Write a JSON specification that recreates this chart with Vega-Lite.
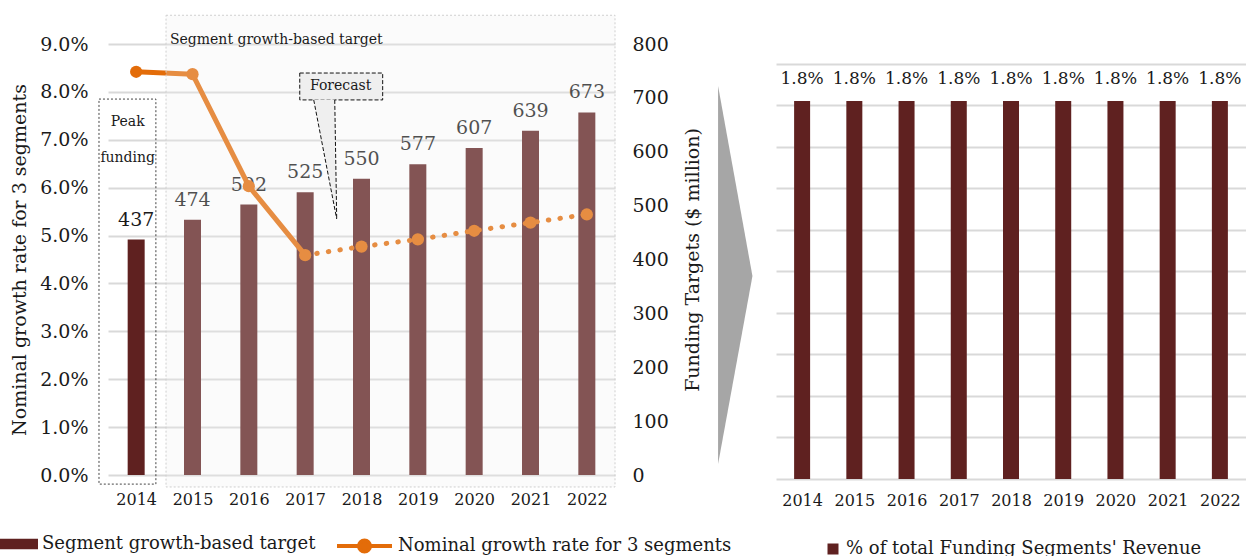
{
  "$schema": "https://vega.github.io/schema/vega-lite/v6.json",
  "padding": {"left": 0, "top": 14, "right": 0, "bottom": 0},
  "background": "white",
  "bounds": "flush",
  "spacing": 161,
  "config": {
    "font": "DejaVu Serif",
    "view": {"stroke": null},
    "axis": {
      "labelFont": "DejaVu Serif",
      "titleFont": "DejaVu Serif",
      "labelColor": "#1a1a1a",
      "titleColor": "#1a1a1a",
      "titleFontWeight": "normal",
      "gridColor": "#d9d9d9",
      "gridWidth": 2,
      "domain": false,
      "ticks": false
    },
    "legend": {"labelFont": "DejaVu Serif", "labelFontSize": 18, "labelColor": "#1a1a1a", "labelOffset": 4, "labelLimit": 0}
  },
  "datasets": {
    "main": [
      {"year": 2014, "funding": 437, "growth": 0.0842},
      {"year": 2015, "funding": 474, "growth": 0.0837},
      {"year": 2016, "funding": 502, "growth": 0.0603},
      {"year": 2017, "funding": 525, "growth": 0.0459},
      {"year": 2018, "funding": 550, "growth": 0.0477},
      {"year": 2019, "funding": 577, "growth": 0.0492},
      {"year": 2020, "funding": 607, "growth": 0.0510},
      {"year": 2021, "funding": 639, "growth": 0.0527},
      {"year": 2022, "funding": 673, "growth": 0.0544}
    ],
    "right": [
      {"year": 2014, "share": 0.0182},
      {"year": 2015, "share": 0.0182},
      {"year": 2016, "share": 0.0182},
      {"year": 2017, "share": 0.0182},
      {"year": 2018, "share": 0.0182},
      {"year": 2019, "share": 0.0182},
      {"year": 2020, "share": 0.0182},
      {"year": 2021, "share": 0.0182},
      {"year": 2022, "share": 0.0182}
    ],
    "overlay": [{"x": 2014.53, "x2": 2022.5, "y": 0.096, "y2": -0.0025}],
    "peak": [{"x": 2013.34, "x2": 2014.35, "y": 0.0785, "y2": -0.0019}],
    "callout": [{"x": 2016.904, "x2": 2018.376, "y": 0.08394, "y2": 0.07832}],
    "pointer": [
      {"y": 0.0784, "x": 2017.152, "x2": 2017.525},
      {"y": 0.05346, "x": 2017.56, "x2": 2017.56}
    ],
    "pointerEdges": [
      {"edge": "a", "i": 0, "x": 2017.152, "y": 0.07832},
      {"edge": "a", "i": 1, "x": 2017.56, "y": 0.05346},
      {"edge": "b", "i": 0, "x": 2017.525, "y": 0.07832},
      {"edge": "b", "i": 1, "x": 2017.56, "y": 0.05346}
    ],
    "notes": [
      {"label": "Peak", "x": 2013.85, "y": 0.0737},
      {"label": "funding", "x": 2013.85, "y": 0.0662},
      {"label": "Forecast", "x": 2017.63, "y": 0.0812}
    ],
    "title": [{"label": "Segment growth-based target", "x": 2014.6, "y": 0.0908}],
    "arrow": [
      {"y": 0.08123, "x": 2024.33, "x2": 2024.33},
      {"y": 0.04155, "x": 2024.33, "x2": 2024.94},
      {"y": 0.0023, "x": 2024.33, "x2": 2024.33}
    ]
  },
  "hconcat": [
    {
      "width": 507,
      "height": 431,
      "layer": [
        {
          "data": {"name": "main"},
          "layer": [
            {
              "mark": {"type": "bar", "width": 17},
              "encoding": {
                "x": {"field": "year", "type": "quantitative", "scale": {"domain": [2013.5, 2022.5], "nice": false, "zero": false, "padding": 0},
                  "axis": {"title": null, "values": [2014, 2015, 2016, 2017, 2018, 2019, 2020, 2021, 2022], "format": "d", "grid": false, "labelFontSize": 16, "labelPadding": 16}},
                "y": {"field": "funding", "type": "quantitative", "title": "Funding Targets ($ million)",
                  "scale": {"domain": [0, 800], "nice": false, "zero": true},
                  "axis": {"orient": "right", "values": [0, 100, 200, 300, 400, 500, 600, 700, 800], "grid": false, "labelFontSize": 19, "labelPadding": 17, "titleFontSize": 19, "titleAngle": 270, "titlePadding": 34}},
                "fill": {"datum": "Segment growth-based target", "scale": {"range": ["#5f2120"]},
                  "legend": {"title": null, "orient": "none", "legendX": -108, "legendY": 481, "symbolType": "M-1,-0.27H1V0.27H-1Z", "symbolSize": 1444, "symbolStrokeWidth": 0}}
              }
            },
            {
              "mark": {"type": "text", "dy": -20, "fontSize": 19, "color": "#1a1a1a"},
              "encoding": {
                "x": {"field": "year", "type": "quantitative"},
                "y": {"field": "funding", "type": "quantitative"},
                "text": {"field": "funding", "type": "quantitative"}
              }
            }
          ]
        },
        {
          "layer": [
            {
              "data": {"name": "main"},
              "transform": [{"filter": "datum.year <= 2017"}],
              "mark": {"type": "line", "strokeWidth": 5, "strokeCap": "round", "strokeJoin": "round"},
              "encoding": {
                "x": {"field": "year", "type": "quantitative"},
                "y": {"field": "growth", "type": "quantitative", "title": "Nominal growth rate for 3 segments",
                  "scale": {"domain": [0, 0.09], "nice": false, "zero": true},
                  "axis": {"orient": "left", "values": [0, 0.01, 0.02, 0.03, 0.04, 0.05, 0.06, 0.07, 0.08, 0.09], "format": ".1%", "grid": true, "labelFontSize": 19, "labelPadding": 20, "titleFontSize": 19, "titlePadding": 10}},
                "stroke": {"datum": "Nominal growth rate for 3 segments", "scale": {"range": ["#e36c09"]},
                  "legend": {"title": null, "orient": "none", "legendX": 227, "legendY": 472.5, "symbolType": "M-1,0H1M-0.2,0A0.2,0.2 0 1,0 0.2,0A0.2,0.2 0 1,0 -0.2,0Z", "symbolSize": 3025, "symbolStrokeWidth": 4,
                    "encode": {"symbols": {"update": {"fill": {"value": "#e36c09"}}}}}}
              }
            },
            {
              "data": {"name": "main"},
              "transform": [{"filter": "datum.year >= 2017"}],
              "mark": {"type": "line", "strokeWidth": 5, "strokeCap": "round", "strokeDash": [0.5, 11.2]},
              "encoding": {
                "x": {"field": "year", "type": "quantitative"},
                "y": {"field": "growth", "type": "quantitative"},
                "stroke": {"datum": "Nominal growth rate for 3 segments"}
              }
            },
            {
              "data": {"name": "main"},
              "mark": {"type": "point", "filled": true, "size": 150, "opacity": 1, "color": "#e36c09"},
              "encoding": {
                "x": {"field": "year", "type": "quantitative"},
                "y": {"field": "growth", "type": "quantitative"}
              }
            },
            {
              "data": {"name": "overlay"},
              "mark": {"type": "rect", "fill": "#f0f0f0", "fillOpacity": 0.25, "stroke": "#cfcfcf", "strokeWidth": 1, "strokeDash": [2, 2]},
              "encoding": {
                "x": {"field": "x", "type": "quantitative"}, "x2": {"field": "x2"},
                "y": {"field": "y", "type": "quantitative"}, "y2": {"field": "y2"}
              }
            },
            {
              "data": {"name": "peak"},
              "mark": {"type": "rect", "fill": null, "fillOpacity": 0, "stroke": "#444444", "strokeWidth": 1, "strokeDash": [2, 2]},
              "encoding": {
                "x": {"field": "x", "type": "quantitative"}, "x2": {"field": "x2"},
                "y": {"field": "y", "type": "quantitative"}, "y2": {"field": "y2"}
              }
            },
            {
              "data": {"name": "callout"},
              "mark": {"type": "rect", "fill": "#efefef", "stroke": "#111111", "strokeWidth": 1, "strokeDash": [4, 2]},
              "encoding": {
                "x": {"field": "x", "type": "quantitative"}, "x2": {"field": "x2"},
                "y": {"field": "y", "type": "quantitative"}, "y2": {"field": "y2"}
              }
            },
            {
              "data": {"name": "pointer"},
              "mark": {"type": "area", "orient": "horizontal", "color": "#efefef", "opacity": 1},
              "encoding": {
                "y": {"field": "y", "type": "quantitative"},
                "x": {"field": "x", "type": "quantitative"}, "x2": {"field": "x2"}
              }
            },
            {
              "data": {"name": "pointerEdges"},
              "mark": {"type": "line", "color": "#111111", "strokeWidth": 1, "strokeDash": [4, 2]},
              "encoding": {
                "x": {"field": "x", "type": "quantitative"},
                "y": {"field": "y", "type": "quantitative"},
                "detail": {"field": "edge"},
                "order": {"field": "i"}
              }
            },
            {
              "data": {"name": "notes"},
              "mark": {"type": "text", "fontSize": 14, "color": "#1a1a1a", "align": "center", "baseline": "middle"},
              "encoding": {
                "x": {"field": "x", "type": "quantitative"},
                "y": {"field": "y", "type": "quantitative"},
                "text": {"field": "label"}
              }
            },
            {
              "data": {"name": "title"},
              "mark": {"type": "text", "fontSize": 14, "color": "#1a1a1a", "align": "left", "baseline": "middle"},
              "encoding": {
                "x": {"field": "x", "type": "quantitative"},
                "y": {"field": "y", "type": "quantitative"},
                "text": {"field": "label"}
              }
            },
            {
              "data": {"name": "arrow"},
              "mark": {"type": "area", "orient": "horizontal", "color": "#a6a6a6", "opacity": 1},
              "encoding": {
                "y": {"field": "y", "type": "quantitative"},
                "x": {"field": "x", "type": "quantitative"}, "x2": {"field": "x2"}
              }
            }
          ]
        }
      ],
      "resolve": {"scale": {"y": "independent"}}
    },
    {
      "width": 470,
      "height": 435,
      "data": {"name": "right"},
      "layer": [
        {
          "mark": {"type": "bar", "width": 16},
          "encoding": {
            "x": {"field": "year", "type": "quantitative", "scale": {"domain": [2013.5, 2022.5], "nice": false, "zero": false, "padding": 0},
              "axis": {"title": null, "values": [2014, 2015, 2016, 2017, 2018, 2019, 2020, 2021, 2022], "format": "d", "grid": false, "labelFontSize": 16, "labelPadding": 13}},
            "y": {"field": "share", "type": "quantitative", "scale": {"domain": [0, 0.02094], "nice": false, "zero": true},
              "axis": {"title": null, "labels": false, "values": [0, 0.002, 0.004, 0.006, 0.008, 0.01, 0.012, 0.014, 0.016, 0.018, 0.02], "grid": true}},
            "color": {"datum": "% of total Funding Segments' Revenue", "scale": {"range": ["#5f2120"]},
              "legend": {"title": null, "orient": "none", "legendX": 716, "legendY": 496, "symbolType": "square", "symbolSize": 121, "symbolStrokeWidth": 0}}
          }
        },
        {
          "mark": {"type": "text", "dy": -22, "fontSize": 17, "color": "#1a1a1a"},
          "encoding": {
            "x": {"field": "year", "type": "quantitative"},
            "y": {"field": "share", "type": "quantitative"},
            "text": {"field": "share", "type": "quantitative", "format": ".1%"}
          }
        }
      ]
    }
  ]
}
